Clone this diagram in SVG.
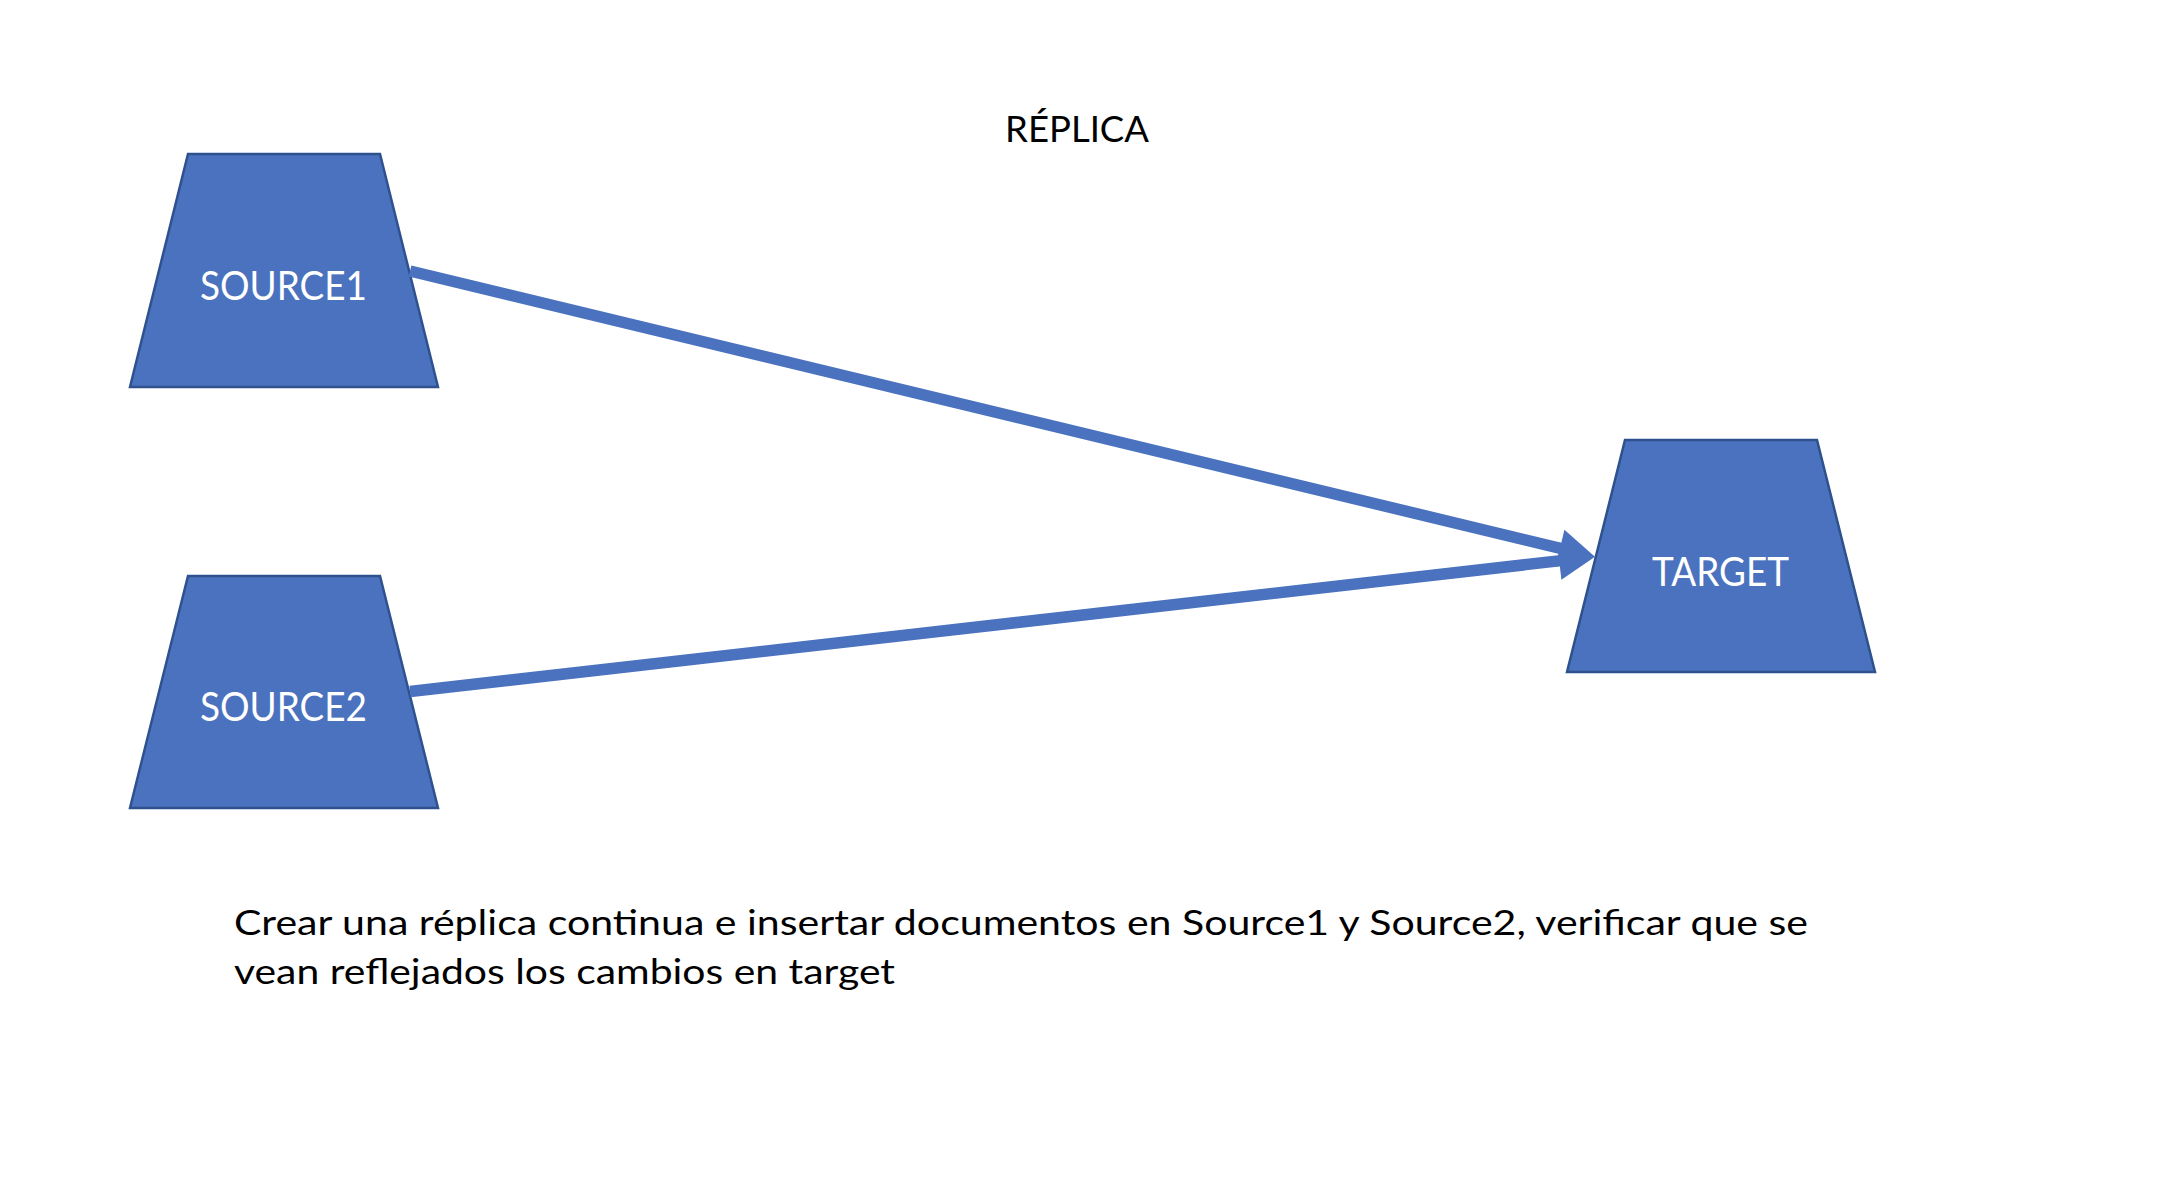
<svg xmlns="http://www.w3.org/2000/svg" width="2184" height="1184" viewBox="0 0 2184 1184">
  <style>
    .shape { fill: #4A72BE; stroke: #2F528F; stroke-width: 2.5; stroke-linejoin: miter; }
    .label { font-family: Lato, "Liberation Sans", sans-serif; fill: #FFFFFF; font-size: 40px; }
    .text { font-family: Lato, "Liberation Sans", sans-serif; fill: #000000; }
    .conn { stroke: #4A72BE; stroke-width: 11.5; fill: none; stroke-linecap: butt; }
  </style>
  <defs>
    <marker id="arrow" markerUnits="userSpaceOnUse" markerWidth="36" markerHeight="38" refX="24" refY="19" orient="auto" overflow="visible">
      <path d="M0,0 L36,19 L0,38 Z" fill="#4A72BE"/>
    </marker>
  </defs>
  <rect x="0" y="0" width="2184" height="1184" fill="#FFFFFF"/>

  <text class="text" x="1005" y="142" font-size="37" textLength="144" lengthAdjust="spacingAndGlyphs">RÉPLICA</text>

  <g id="source1">
    <polygon class="shape" points="188,154 380,154 438,387 130,387"/>
    <text class="label" x="200" y="300" textLength="167" lengthAdjust="spacingAndGlyphs">SOURCE1</text>
  </g>

  <g id="source2">
    <polygon class="shape" points="188,576 380,576 438,808 130,808"/>
    <text class="label" x="200" y="721" textLength="167" lengthAdjust="spacingAndGlyphs">SOURCE2</text>
  </g>

  <g id="target">
    <polygon class="shape" points="1625,440 1817,440 1875,672 1567,672"/>
    <text class="label" x="1652" y="586" textLength="137" lengthAdjust="spacingAndGlyphs">TARGET</text>
  </g>

  <g id="connectors">
    <line class="conn" x1="410" y1="271" x2="1583.3" y2="553.9" marker-end="url(#arrow)"/>
    <line class="conn" x1="410" y1="691.5" x2="1583.1" y2="558.1" marker-end="url(#arrow)"/>
  </g>

  <g id="description">
    <text class="text" x="234" y="935" font-size="35" textLength="1574" lengthAdjust="spacingAndGlyphs">Crear una réplica continua e insertar documentos en Source1 y Source2, verificar que se</text>
    <text class="text" x="234" y="984" font-size="35" textLength="661" lengthAdjust="spacingAndGlyphs">vean reflejados los cambios en target</text>
  </g>
</svg>
